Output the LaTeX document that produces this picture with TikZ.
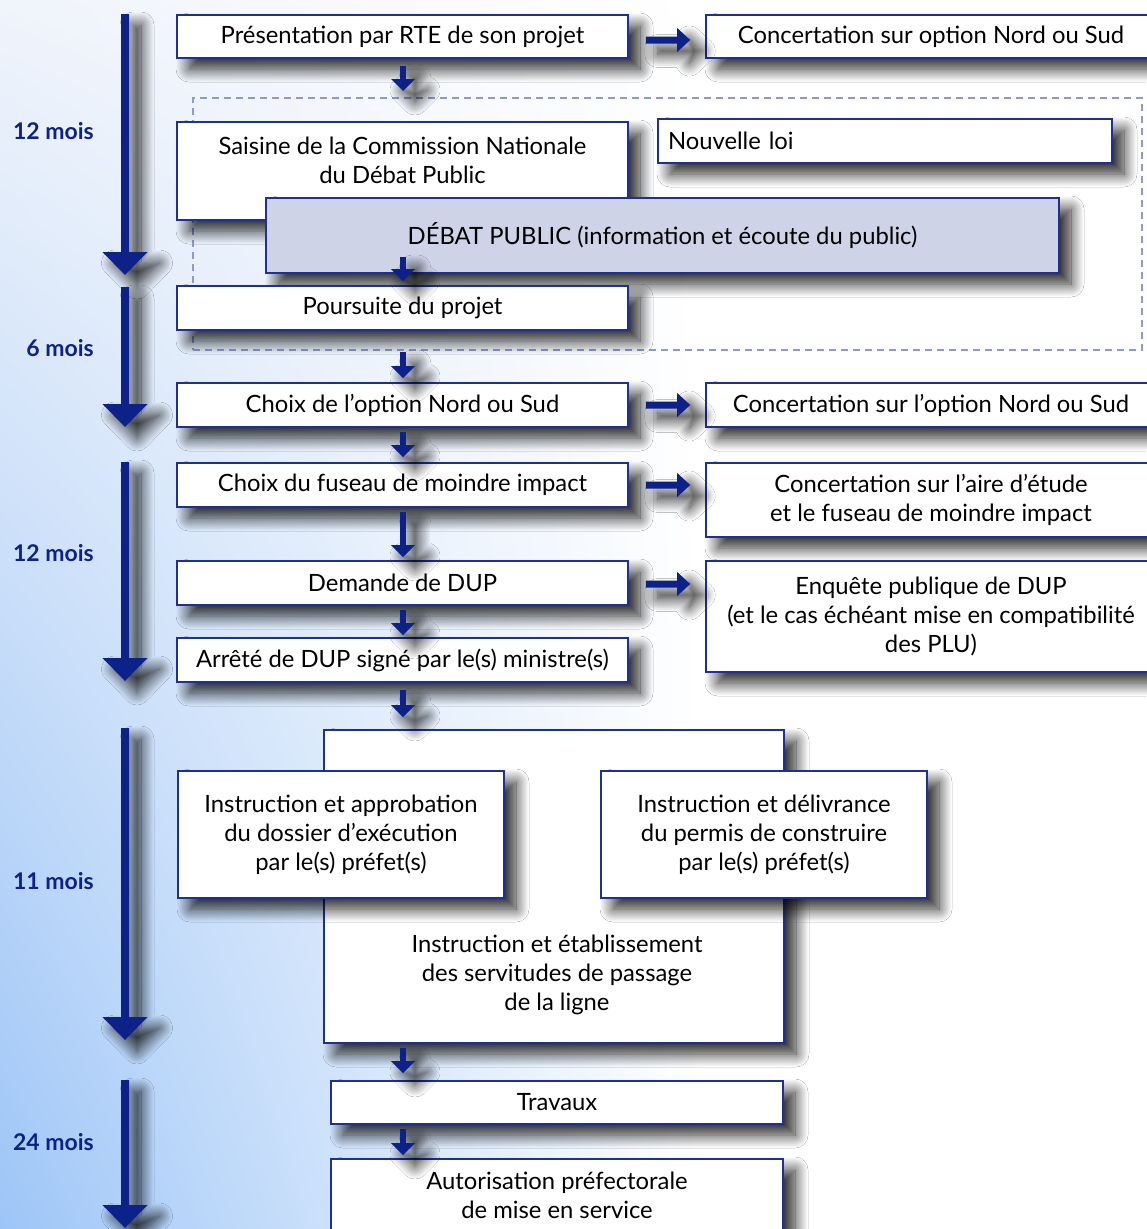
\documentclass[tikz,border=0pt]{standalone}
\usepackage{fontspec}
\setmainfont{Lato}
\usetikzlibrary{shadows.blur,calc,shadings}
\definecolor{dblue}{RGB}{12,34,136}
\definecolor{bord}{RGB}{30,48,146}
\definecolor{dashc}{RGB}{142,154,206}
\definecolor{debatc}{RGB}{206,211,232}
\definecolor{bgblue}{RGB}{157,197,247}
\definecolor{bgtop}{RGB}{240,244,251}
\newcommand\vconn[2]{%
  \fill[dblue,shad] ($(#1)+(-2.8,0)$) -- ($(#2)+(-2.8,-12)$) -- ($(#2)+(-12,-12)$) -- (#2)
    -- ($(#2)+(12,-12)$) -- ($(#2)+(2.8,-12)$) -- ($(#1)+(2.8,0)$) -- cycle;}
\newcommand\hconn[2]{%
  \fill[dblue,shad] ($(#1)+(0,-3.5)$) -- ($(#2)+(-13,-3.5)$) -- ($(#2)+(-13,-12)$) -- (#2)
    -- ($(#2)+(-13,12)$) -- ($(#2)+(-13,3.5)$) -- ($(#1)+(0,3.5)$) -- cycle;}
\newcommand\bigarrow[3]{%
  \fill[dblue,shad] (#1-4,#2) -- (#1-4,#3-23) -- (#1-22.5,#3-23) -- (#1,#3)
    -- (#1+22.5,#3-23) -- (#1+4,#3-23) -- (#1+4,#2) -- cycle;}
\begin{document}
\begin{tikzpicture}[x=1pt,y=-1pt,
  shad/.style={blur shadow={shadow xshift=12pt,shadow yshift=-11pt,shadow blur radius=13pt,shadow blur steps=20,shadow opacity=85}},
  box/.style={draw=bord,line width=1.6pt,fill=white,shad,inner sep=0pt,align=center,
    font=\fontsize{23.8}{28.8}\selectfont},
  txt/.style={inner sep=0pt,align=center,font=\fontsize{23.8}{28.8}\selectfont},
  lab/.style={text=dblue,anchor=east,inner sep=0pt,font=\fontsize{23}{25}\selectfont\bfseries}]
\useasboundingbox (0,0) rectangle (1146,1229);
% background
\fill[white] (0,0) rectangle (1146,1229);
\shade[upper left=bgtop,lower left=bgblue,upper right=white,lower right=white] (0,0) rectangle (700,1229);

% dashed frame
\node[draw=dashc,line width=2.2pt,dash pattern=on 7pt off 5pt,minimum width=949pt,minimum height=252pt,inner sep=0pt] (grp) at (667.5,224) {};

% time arrows
\bigarrow{125}{14}{275}
\bigarrow{125}{287}{427}
\bigarrow{125}{462}{681}
\bigarrow{125}{728}{1040}
\bigarrow{125}{1080}{1228}
\node[lab] (m1) at (94,131) {12 mois};
\node[lab] (m2) at (94,348) {6 mois};
\node[lab] (m3) at (94,553) {12 mois};
\node[lab] (m4) at (94,881) {11 mois};
\node[lab] (m5) at (94,1142) {24 mois};

% left column
\node[box,minimum width=451pt,minimum height=43pt] (p1) at (402.5,36.5) {Présentation par RTE de son projet};
\node[box,minimum width=450pt,minimum height=43pt] (r1) at (931,36.5) {Concertation sur option Nord ou Sud};

\node[box,minimum width=451pt,minimum height=98pt] (sais) at (402.5,171) {};
\node[txt] (saist) at (402.5,160) {Saisine de la Commission Nationale\\du Débat Public};
\node[box,minimum width=454pt,minimum height=44pt,text width=434pt,align=left] (loi) at (885,141) {Nouvelle loi};
\node[box,fill=debatc,minimum width=793pt,minimum height=75pt] (deb) at (662.5,235.5) {DÉBAT PUBLIC (information et écoute du public)};
\node[box,minimum width=451pt,minimum height=44pt] (pours) at (402.5,308) {Poursuite du projet};

\node[box,minimum width=451pt,minimum height=44pt] (opt) at (402.5,405) {Choix de l’option Nord ou Sud};
\node[box,minimum width=450pt,minimum height=44pt] (r2) at (931,405) {Concertation sur l’option Nord ou Sud};
\node[box,minimum width=451pt,minimum height=44pt] (fus) at (402.5,485) {Choix du fuseau de moindre impact};
\node[box,minimum width=450pt,minimum height=74pt] (r3) at (931,500) {Concertation sur l’aire d’étude\\et le fuseau de moindre impact};
\node[box,minimum width=451pt,minimum height=44pt] (dem) at (402.5,583) {Demande de DUP};
\node[box,minimum width=450pt,minimum height=111pt] (r4) at (931,616.5) {Enquête publique de DUP\\(et le cas échéant mise en compatibilité\\des PLU)};
\node[box,minimum width=451pt,minimum height=44pt] (arr) at (402.5,660) {Arrêté de DUP signé par le(s) ministre(s)};

\node[box,minimum width=460pt,minimum height=313pt] (big) at (554,886.5) {};
\node[txt] (bigt) at (557,975) {Instruction et établissement\\des servitudes de passage\\de la ligne};
\node[box,minimum width=326pt,minimum height=127pt] (appr) at (341,834.5) {Instruction et approbation\\du dossier d’exécution\\par le(s) préfet(s)};
\node[box,minimum width=326pt,minimum height=127pt] (deli) at (764,834.5) {Instruction et délivrance\\du permis de construire\\par le(s) préfet(s)};
\node[box,minimum width=452pt,minimum height=43pt] (trav) at (557,1102.5) {Travaux};
\node[box,minimum width=452pt,minimum height=91pt] (aut) at (557,1204.5) {};
\node[txt] (autt) at (557,1195) {Autorisation préfectorale\\de mise en service};

% connectors
\coordinate (a1) at (403,66);   \coordinate (b1) at (403,91);
\coordinate (a2) at (403,257);  \coordinate (b2) at (403,281);
\coordinate (a3) at (403,352);  \coordinate (b3) at (403,378);
\coordinate (a4) at (403,432);  \coordinate (b4) at (403,457);
\coordinate (a5) at (403,512);  \coordinate (b5) at (403,557);
\coordinate (a6) at (403,610);  \coordinate (b6) at (403,635);
\coordinate (a7) at (403,690);  \coordinate (b7) at (403,717);
\coordinate (a8) at (403,1048); \coordinate (b8) at (403,1073);
\coordinate (a9) at (403,1129); \coordinate (b9) at (403,1155);
\vconn{a1}{b1}\vconn{a2}{b2}\vconn{a3}{b3}\vconn{a4}{b4}\vconn{a5}{b5}
\vconn{a6}{b6}\vconn{a7}{b7}\vconn{a8}{b8}\vconn{a9}{b9}

\coordinate (h1a) at ($(p1.east)+(17,3.5)$);  \coordinate (h1b) at ($(r1.west)+(-15,3.5)$);
\coordinate (h2a) at ($(opt.east)+(17,0)$);   \coordinate (h2b) at ($(opt.east -| r2.west)+(-15,0)$);
\coordinate (h3a) at ($(fus.east)+(17,0)$);   \coordinate (h3b) at ($(fus.east -| r3.west)+(-15,0)$);
\coordinate (h4a) at ($(dem.east)+(17,1)$);   \coordinate (h4b) at ($(dem.east -| r4.west)+(-15,1)$);
\hconn{h1a}{h1b}\hconn{h2a}{h2b}\hconn{h3a}{h3b}\hconn{h4a}{h4b}
\end{tikzpicture}
\end{document}
